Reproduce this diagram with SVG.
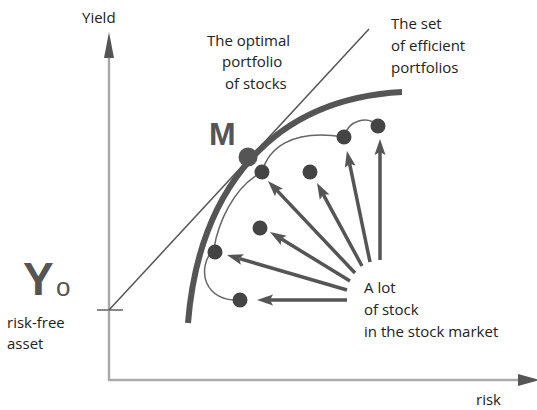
<svg xmlns="http://www.w3.org/2000/svg" width="537" height="410" viewBox="0 0 537 410">
<style>
.t{font-family:"Open Sans","Liberation Sans",sans-serif;font-size:15px;fill:#222}
.axis{stroke:#aaa;stroke-width:2.5;fill:none}
.ah{fill:#555}
.arr{stroke:#555;stroke-width:3.5;fill:none;marker-end:url(#head)}
.dot{fill:#444}
</style>
<defs>
<marker id="head" markerUnits="userSpaceOnUse" markerWidth="17" markerHeight="12" refX="3" refY="5.5" orient="auto" viewBox="0 0 17 11">
<path d="M0,0 L16,5.5 L0,11 L3,5.5 z" fill="#555"/>
</marker>
</defs>
<rect width="537" height="410" fill="#fff"/>
<g id="axes">
<line class="axis" x1="109" y1="56" x2="109" y2="381"/>
<line class="axis" x1="108" y1="380" x2="522" y2="380"/>
<polygon class="ah" points="109,32 104,58 114,58"/>
<polygon class="ah" points="540,380 518,374 518,386"/>
<line x1="97" y1="310" x2="123" y2="310" stroke="#888" stroke-width="2"/>
<text class="t" x="82" y="23">Yield</text>
<text class="t" x="476" y="405">risk</text>
</g>
<g id="risk-free">
<text x="23" y="295" font-family="'Liberation Sans',Arial,sans-serif" font-size="46" font-weight="bold" fill="#555">Y</text>
<text x="56" y="296" font-family="'Liberation Sans',Arial,sans-serif" font-size="26" fill="#555">o</text>
<text class="t" x="7" y="328">risk-free</text>
<text class="t" x="7" y="349">asset</text>
</g>
<g id="tangent">
<line x1="109" y1="310" x2="369" y2="29" stroke="#555" stroke-width="1.5"/>
</g>
<g id="frontier">
<path d="M188,323 C197,210 255,100 402,92" stroke="#555" stroke-width="6" fill="none"/>
</g>
<g id="attainable">
<path d="M240,300 C205,302 195,270 214,248 C218,225 232,188 262,172 C268,150 290,128 344,137 C348,120 368,115 378,126" stroke="#666" stroke-width="1.5" fill="none"/>
</g>
<g id="connectors">
<line class="arr" x1="347" y1="300" x2="270" y2="300"/>
<line class="arr" x1="347" y1="290" x2="239.5" y2="258.6"/>
<line class="arr" x1="350" y1="281" x2="281.1" y2="238.8"/>
<line class="arr" x1="355" y1="273" x2="276.9" y2="190.4"/>
<line class="arr" x1="362" y1="266" x2="323.2" y2="194.4"/>
<line class="arr" x1="370" y1="262" x2="349.6" y2="163.7"/>
<line class="arr" x1="380" y1="260" x2="380" y2="152"/>
</g>
<g id="stocks">
<circle class="dot" cx="378" cy="126" r="7.5"/>
<circle class="dot" cx="344" cy="137" r="7.5"/>
<circle class="dot" cx="310" cy="172" r="7.5"/>
<circle class="dot" cx="262" cy="172" r="7.5"/>
<circle class="dot" cx="260" cy="228" r="7.5"/>
<circle class="dot" cx="215" cy="252" r="7.5"/>
<circle class="dot" cx="240" cy="300" r="7.5"/>
</g>
<g id="M">
<circle cx="248" cy="157" r="9.5" fill="#555"/>
<text x="209" y="145" font-family="'Liberation Sans',Arial,sans-serif" font-size="32" font-weight="bold" fill="#555">M</text>
</g>
<g id="optimal-label">
<text class="t" x="207" y="46">The optimal</text>
<text class="t" x="222" y="67">portfolio</text>
<text class="t" x="225" y="89">of stocks</text>
</g>
<g id="efficient-label">
<text class="t" x="391" y="29">The set</text>
<text class="t" x="391" y="51">of efficient</text>
<text class="t" x="391" y="73">portfolios</text>
</g>
<g id="market-label">
<text class="t" x="364" y="293">A lot</text>
<text class="t" x="364" y="315">of stock</text>
<text class="t" x="364" y="337">in the stock market</text>
</g>
</svg>
